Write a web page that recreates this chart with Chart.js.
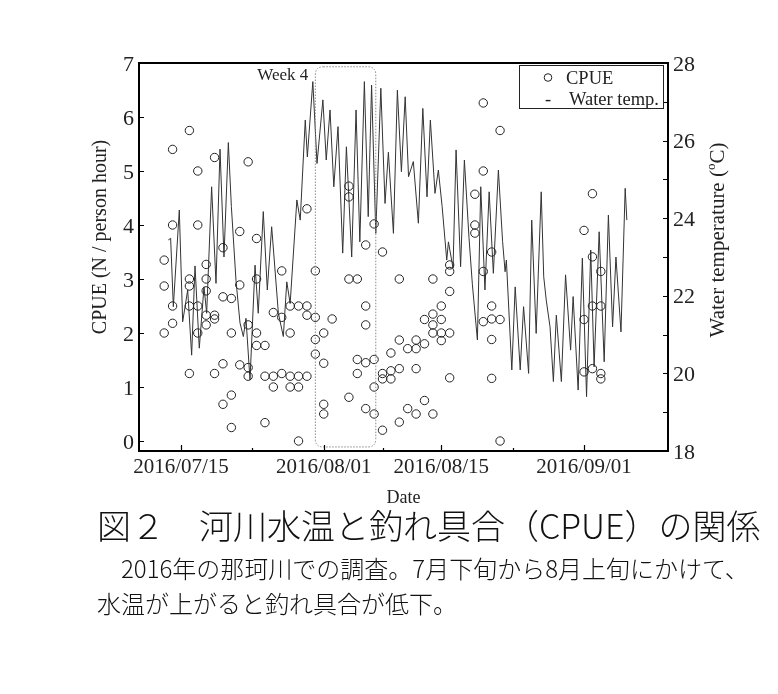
<!DOCTYPE html>
<html>
<head>
<meta charset="utf-8">
<script src="https://cdn.jsdelivr.net/npm/chart.js@4.4.1/dist/chart.umd.min.js"></script>
<style>
  html, body { margin: 0; padding: 0; background: #fff; }
  #wrap { position: relative; width: 778px; height: 694px; overflow: hidden; }
  #chart { position: absolute; left: 0; top: 0; }
  .cap { position: absolute; white-space: nowrap; font-family: "Noto Sans CJK JP", sans-serif; font-weight: 300; color: #111; line-height: 1; }
</style>
</head>
<body>
<div id="wrap">
  <canvas id="chart" width="778" height="694"></canvas>
  <div class="cap" style="left:97px;top:508px;font-size:34px;">図２　河川水温と釣れ具合（CPUE）の関係</div>
  <div class="cap" style="left:97px;top:556px;font-size:24px;">　2016年の那珂川での調査。7月下旬から8月上旬にかけて、</div>
  <div class="cap" style="left:97px;top:591px;font-size:24px;">水温が上がると釣れ具合が低下。</div>
</div>
<script>
// x values are days counted from 2016/07/10
const xTickDays = [5, 22, 36, 53];
const xTickLabels = ["2016/07/15", "2016/08/01", "2016/08/15", "2016/09/01"];
const xMinorDays = [13.5, 29, 44.5];
const cpueTicks = [0, 1, 2, 3, 4, 5, 6, 7];
const tempTicks = [18, 19, 20, 21, 22, 23, 24, 25, 26, 27, 28];

// CPUE: survey days and the values read for each day
const cpueDays = [3, 4, 6, 7, 8, 9, 10, 11, 12, 13, 14, 15, 16, 17, 18, 19, 20, 21, 22, 23,
  25, 26, 27, 28, 29, 30, 31, 32, 33, 34, 35, 36, 37, 40, 41, 42, 43, 53, 54, 55];
const cpueByDay = [
  [3.35, 2.87, 2.0],
  [5.4, 4.0, 2.5, 2.18],
  [5.75, 3.0, 2.87, 2.5, 1.25],
  [5.0, 4.0, 2.5, 2.0],
  [3.27, 3.0, 2.78, 2.33, 2.15],
  [5.25, 2.33, 2.26, 1.25],
  [3.58, 2.67, 1.43, 0.68],
  [2.64, 2.0, 0.85, 0.25],
  [3.88, 2.89, 1.41],
  [5.17, 2.15, 1.36, 1.2],
  [3.75, 3.0, 2.0, 1.77],
  [1.77, 1.2, 0.34],
  [2.38, 1.2, 1.0],
  [3.15, 2.29, 1.25],
  [2.5, 2.0, 1.2, 1.0],
  [2.5, 1.2, 1.0, 0.0],
  [4.3, 2.5, 2.33, 1.2],
  [3.15, 2.29, 1.88, 1.61],
  [2.0, 1.44, 0.68, 0.5],
  [2.26],
  [4.72, 4.52, 3.0, 0.81],
  [3.0, 1.51, 1.25],
  [3.63, 2.5, 2.15, 1.45, 0.6],
  [4.02, 1.51, 1.0, 0.5],
  [3.5, 1.25, 1.15, 0.2],
  [1.63, 1.3, 1.15],
  [3.0, 1.87, 1.34, 0.35],
  [1.71, 0.6],
  [1.87, 1.71, 1.34, 0.5],
  [2.25, 1.8, 0.75],
  [3.0, 2.35, 2.15, 2.0, 0.5],
  [2.5, 2.25, 2.0, 1.86],
  [3.26, 3.14, 2.77, 2.0, 1.17],
  [4.57, 4.0, 3.85],
  [6.26, 5.0, 3.14, 2.21],
  [3.5, 2.5, 2.26, 1.88, 1.16],
  [5.75, 2.25, 0.0],
  [3.9, 2.25, 1.28],
  [4.58, 3.41, 2.5, 1.34],
  [3.14, 2.5, 1.25, 1.15]
];

// water temperature trace (day, degC)
const tempDays = [3.49, 3.77, 4.09, 4.8, 5.2, 5.8, 6.27, 6.67, 7.18, 7.74, 8.06, 8.65, 9.17, 9.65,
  10.12, 10.64, 11.0, 11.55, 12.03, 12.43, 12.74, 13.22, 13.82, 14.2, 14.8, 15.28, 15.8, 16.6,
  17.19, 17.6, 18.0, 18.8, 19.2, 19.8, 20.05, 20.7, 21.2, 21.9, 22.3, 22.75, 23.2, 23.7, 24.26,
  24.7, 25.33, 25.85, 26.3, 26.84, 27.3, 27.7, 28.2, 28.8, 29.3, 29.7, 30.3, 30.77, 31.25, 31.7,
  32.1, 32.67, 33.27, 33.8, 34.3, 34.7, 35.25, 35.65, 36.1, 36.65, 36.85, 37.4, 37.76, 38.3,
  38.75, 39.3, 39.7, 40.3, 40.7, 41.2, 41.7, 42.2, 42.8, 43.3, 43.6, 43.75, 44.4, 44.8, 45.4,
  45.8, 46.4, 46.77, 47.3, 47.9, 48.2, 48.5, 48.95, 49.35, 49.7, 50.3, 50.8, 51.4, 51.7, 52.3,
  52.8, 53.3, 53.8, 54.2, 54.8, 55.4, 55.9, 56.4, 56.8, 57.4, 57.9, 58.1];
const tempC = [23.44, 23.48, 21.72, 24.21, 21.33, 22.15, 20.47, 22.77, 20.65, 22.23, 21.55, 24.81, 22.32, 25.78,
  23.0, 25.95, 24.3, 22.4, 21.3, 20.95, 21.42, 19.83, 22.79, 21.55, 24.17, 22.15, 23.78, 21.55,
  20.95, 22.36, 21.8, 24.47, 23.95, 26.53, 25.58, 27.52, 25.41, 27.05, 25.5, 26.79, 24.81, 26.36, 23.1,
  25.84, 23.0, 26.79, 23.39, 27.52, 24.04, 27.43, 23.61, 27.35, 24.38, 25.7, 23.61, 27.3, 25.2, 27.13,
  25.07, 25.46, 23.87, 26.83, 24.55, 26.53, 24.64, 25.24, 24.3, 22.92, 23.39, 22.71, 25.76, 22.75,
  25.5, 23.5, 22.3, 20.86, 24.81, 22.15, 24.68, 22.58, 25.24, 23.4, 22.62, 22.92, 20.09, 22.23, 20.09,
  21.72, 20.0, 23.95, 21.03, 24.68, 22.49, 21.89, 21.2, 19.79, 21.5, 19.79, 22.54, 20.6, 21.98, 19.57,
  22.97, 19.4, 23.18, 20.17, 23.65, 20.3, 24.08, 21.2, 23.0, 21.07, 24.77, 23.95];

// "Week 4" period: first day, last day, CPUE top, CPUE bottom
const weekBox = [21, 28.2, 6.93, -0.11];

const cpuePoints = [];
cpueDays.forEach((d, i) => {
  cpueByDay[i].forEach((v) => cpuePoints.push({ x: d, y: v }));
});
const tempPoints = tempDays.map((d, i) => ({ x: d, y: tempC[i] }));

const serif = '"Liberation Serif", "Times New Roman", serif';
const ink = "#222";

function roundRect(ctx, x, y, w, h, r) {
  ctx.beginPath();
  ctx.moveTo(x + r, y);
  ctx.lineTo(x + w - r, y);
  ctx.quadraticCurveTo(x + w, y, x + w, y + r);
  ctx.lineTo(x + w, y + h - r);
  ctx.quadraticCurveTo(x + w, y + h, x + w - r, y + h);
  ctx.lineTo(x + r, y + h);
  ctx.quadraticCurveTo(x, y + h, x, y + h - r);
  ctx.lineTo(x, y + r);
  ctx.quadraticCurveTo(x, y, x + r, y);
  ctx.closePath();
}

const overlay = {
  id: "overlay",
  afterDraw(chart) {
    const { ctx, chartArea: a, scales } = chart;
    const x = scales.x, yL = scales.y, yR = scales.yT;
    ctx.save();

    // week 4 box
    const bx0 = x.getPixelForValue(weekBox[0]);
    const bx1 = x.getPixelForValue(weekBox[1]);
    const by0 = yL.getPixelForValue(weekBox[2]);
    const by1 = yL.getPixelForValue(weekBox[3]);
    ctx.strokeStyle = "#8a8a8a";
    ctx.lineWidth = 1;
    ctx.setLineDash([1.5, 1.5]);
    roundRect(ctx, bx0, by0, bx1 - bx0, by1 - by0, 8);
    ctx.stroke();
    ctx.setLineDash([]);
    ctx.fillStyle = ink;
    ctx.font = "17px " + serif;
    ctx.textAlign = "right";
    ctx.textBaseline = "alphabetic";
    ctx.fillText("Week 4", bx0 - 7, 80);

    // frame
    ctx.strokeStyle = "#000";
    ctx.lineWidth = 2;
    ctx.strokeRect(a.left, a.top, a.right - a.left, a.bottom - a.top);

    // ticks
    ctx.lineWidth = 1.2;
    ctx.strokeStyle = "#000";
    ctx.beginPath();
    cpueTicks.forEach((v) => {
      const p = Math.round(yL.getPixelForValue(v)) + 0.5;
      ctx.moveTo(a.left, p); ctx.lineTo(a.left + 5, p);
    });
    tempTicks.forEach((v) => {
      const p = Math.round(yR.getPixelForValue(v)) + 0.5;
      ctx.moveTo(a.right - 5, p); ctx.lineTo(a.right, p);
    });
    xTickDays.forEach((d) => {
      const p = Math.round(x.getPixelForValue(d)) + 0.5;
      ctx.moveTo(p, a.bottom); ctx.lineTo(p, a.bottom - 6);
    });
    xMinorDays.forEach((d) => {
      const p = Math.round(x.getPixelForValue(d)) + 0.5;
      ctx.moveTo(p, a.bottom); ctx.lineTo(p, a.bottom - 3);
    });
    ctx.stroke();

    // tick labels
    ctx.fillStyle = ink;
    ctx.font = "22px " + serif;
    ctx.textAlign = "right";
    cpueTicks.forEach((v) => {
      ctx.fillText(String(v), a.left - 5, yL.getPixelForValue(v) + 7.5);
    });
    ctx.textAlign = "left";
    tempTicks.filter((v) => v % 2 === 0).forEach((v) => {
      ctx.fillText(String(v), a.right + 5, yR.getPixelForValue(v) + 7.5);
    });
    ctx.font = "21px " + serif;
    ctx.textAlign = "center";
    xTickDays.forEach((d, i) => {
      ctx.fillText(xTickLabels[i], x.getPixelForValue(d), a.bottom + 22);
    });

    // axis titles
    ctx.font = "18px " + serif;
    ctx.fillText("Date", (a.left + a.right) / 2, a.bottom + 52);

    ctx.save();
    ctx.translate(101, 237);
    ctx.rotate(-Math.PI / 2);
    ctx.font = "20px " + serif;
    ctx.textBaseline = "middle";
    ctx.textAlign = "center";
    ctx.fillText("CPUE (N / person hour)", 0, 0);
    ctx.restore();

    ctx.save();
    ctx.translate(718, 240);
    ctx.rotate(-Math.PI / 2);
    ctx.textBaseline = "middle";
    ctx.textAlign = "left";
    const big = "21px " + serif, small = "13px " + serif;
    ctx.font = big;
    const t1 = "Water temperature (", t3 = "C)";
    const w1 = ctx.measureText(t1).width, w3 = ctx.measureText(t3).width;
    ctx.font = small;
    const w2 = ctx.measureText("o").width;
    let sx = -(w1 + w2 + w3) / 2;
    ctx.font = big;
    ctx.fillText(t1, sx, 0);
    ctx.font = small;
    ctx.fillText("o", sx + w1, -6);
    ctx.font = big;
    ctx.fillText(t3, sx + w1 + w2, 0);
    ctx.restore();

    // legend
    ctx.lineWidth = 1;
    ctx.strokeStyle = ink;
    ctx.strokeRect(519.5, 65.5, 144, 43);
    ctx.beginPath();
    ctx.arc(548, 77.5, 3.8, 0, Math.PI * 2);
    ctx.stroke();
    ctx.font = "18.5px " + serif;
    ctx.textAlign = "left";
    ctx.textBaseline = "alphabetic";
    ctx.fillText(chart.data.datasets[0].label, 566, 84);
    ctx.textAlign = "center";
    ctx.fillText("-", 548, 105);
    ctx.textAlign = "left";
    ctx.fillText(chart.data.datasets[1].label, 569, 105);

    ctx.restore();
  }
};

new Chart(document.getElementById("chart"), {
  type: "scatter",
  data: {
    datasets: [
      {
        label: "CPUE",
        data: cpuePoints,
        yAxisID: "y",
        pointStyle: "circle",
        pointRadius: 4.2,
        pointBorderWidth: 1,
        borderColor: ink,
        backgroundColor: "rgba(0,0,0,0)",
        pointBackgroundColor: "rgba(0,0,0,0)"
      },
      {
        label: "Water temp.",
        data: tempPoints,
        yAxisID: "yT",
        showLine: true,
        pointRadius: 0,
        borderColor: "#333",
        borderWidth: 1,
        tension: 0
      }
    ]
  },
  options: {
    responsive: false,
    animation: false,
    devicePixelRatio: 1,
    layout: { padding: { top: 63, left: 0, right: 0, bottom: 0 } },
    plugins: { legend: { display: false }, tooltip: { enabled: false } },
    scales: {
      x: {
        type: "linear", min: 0, max: 63,
        grid: { display: false }, border: { display: false }, ticks: { display: false },
        afterFit: (s) => { s.height = 243; }
      },
      y: {
        position: "left", min: -0.185, max: 7,
        grid: { display: false }, border: { display: false }, ticks: { display: false },
        afterFit: (s) => { s.width = 139; }
      },
      yT: {
        position: "right", min: 18, max: 28,
        grid: { display: false }, border: { display: false }, ticks: { display: false },
        afterFit: (s) => { s.width = 110; }
      }
    }
  },
  plugins: [overlay]
});
</script>
</body>
</html>
